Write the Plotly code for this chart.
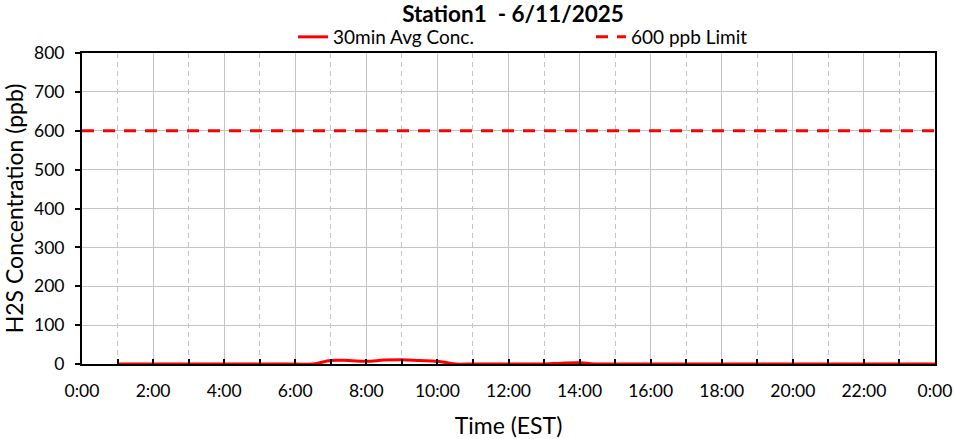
import plotly.graph_objects as go

# 30-min average concentrations (ppb), hours from 1:00 to 24:00
hours = [1 + 0.5 * i for i in range(47)]
conc = ([0] * 11                                  # 1:00 - 6:00
        + [0, 9, 9, 7, 10, 11, 9, 7, 0]           # 6:30 - 10:30
        + [0, 0, 0, 0, 0, 2, 3, 0]                # 11:00 - 14:30
        + [0] * 19)                               # 15:00 - 24:00
limit_x = [0, 24]
limit_y = [600, 600]
tick_vals = list(range(0, 25, 2))
tick_text = ["0:00", "2:00", "4:00", "6:00", "8:00", "10:00", "12:00", "14:00",
             "16:00", "18:00", "20:00", "22:00", "0:00"]
y_ticks = list(range(0, 801, 100))

FONT = "Lato"
W, H = 954, 439
GRID = "#c4c4c4"
fig = go.Figure()
fig.add_trace(go.Scatter(x=hours, y=conc, mode="lines", name="30min Avg Conc.",
                         line=dict(color="#ff0000", width=3, shape="spline")))
fig.add_trace(go.Scatter(x=limit_x, y=limit_y, mode="lines", name="600 ppb Limit",
                         line=dict(color="#ff0000", width=3, dash="12px,9px")))

fig.update_layout(
    width=W, height=H,
    margin=dict(l=82, r=19, t=53, b=75, autoexpand=False),
    paper_bgcolor="white", plot_bgcolor="white",
    font=dict(family=FONT, color="black", size=17.5),
    title=dict(text="<b>Station1  - 6/11/2025</b>", x=513 / W, xanchor="center", xref="container",
               y=1 - 14 / H, yanchor="middle", yref="container", font=dict(size=22.5, family=FONT)),
    legend=dict(orientation="h", xref="container", x=293 / W, xanchor="left",
                yref="container", y=1 - 37 / H, yanchor="middle",
                entrywidth=253, entrywidthmode="pixels", font=dict(size=19, family=FONT),
                bgcolor="rgba(0,0,0,0)"),
    showlegend=True,
)
fig.update_xaxes(range=[0, 24], tickvals=tick_vals, ticktext=tick_text,
                 showline=True, linecolor="black", linewidth=2, mirror=True,
                 showgrid=True, gridcolor=GRID, gridwidth=1,
                 ticks="inside", ticklen=5, tickcolor="black", tickwidth=2,
                 ticklabelstandoff=10,
                 minor=dict(dtick=2, tick0=1, showgrid=True, gridcolor=GRID,
                            griddash="5px,4px", ticks="inside", ticklen=5, tickcolor="black", tickwidth=2),
                 title=dict(text="Time (EST)", font=dict(size=23, family=FONT), standoff=18),
                 zeroline=False)
fig.update_yaxes(range=[0, 800], tickvals=y_ticks,
                 showline=True, linecolor="black", linewidth=2, mirror=True,
                 showgrid=True, gridcolor=GRID, gridwidth=1,
                 ticks="outside", ticklen=5, tickcolor="black", tickwidth=2,
                 ticklabelstandoff=7,
                 title=dict(text="H2S Concentration (ppb)", font=dict(size=23, family=FONT), standoff=13),
                 zeroline=False)

fig.write_html("out.html", config={"displayModeBar": False},
               post_script="document.body.style.margin='0';document.body.style.overflow='hidden';")
